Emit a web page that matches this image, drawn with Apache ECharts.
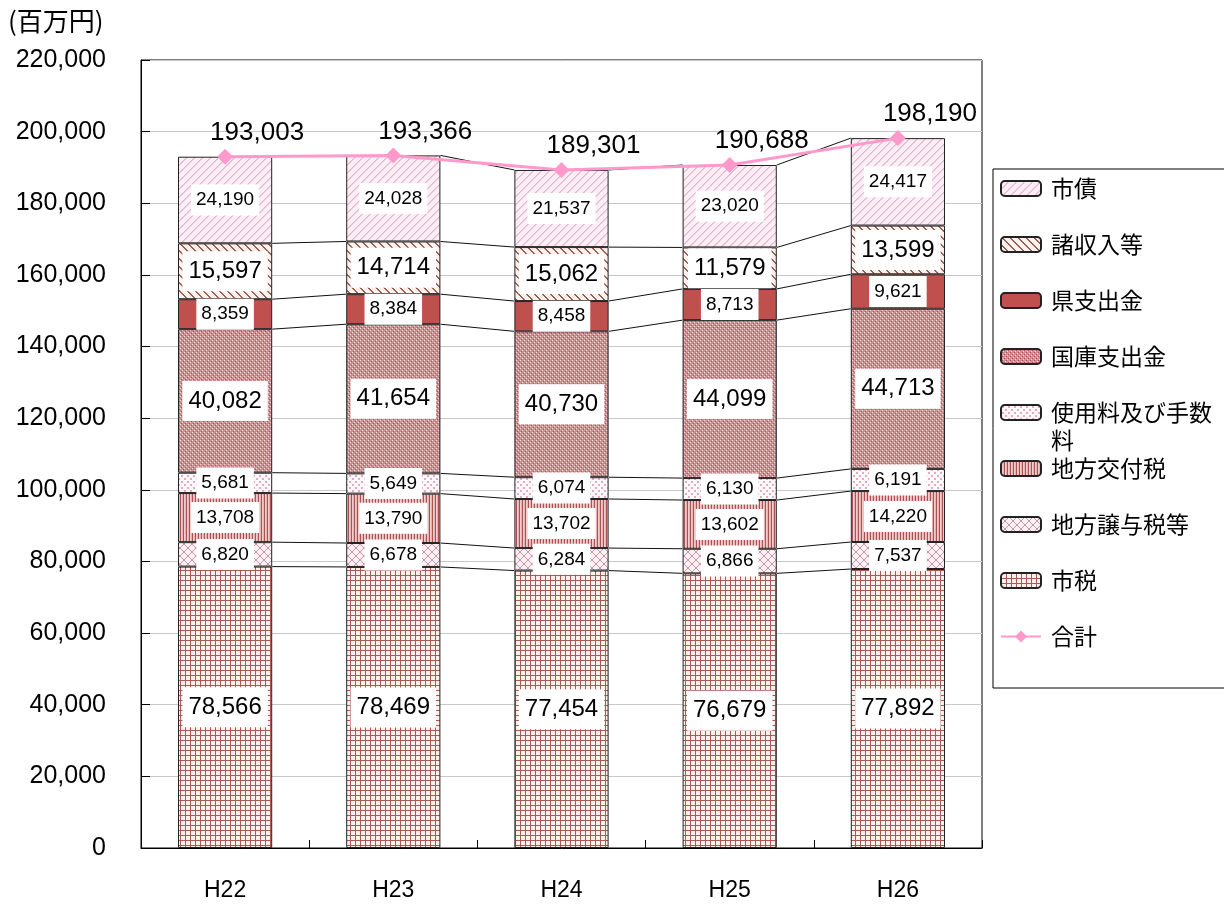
<!DOCTYPE html>
<html>
<head>
<meta charset="utf-8">
<script src="https://cdn.jsdelivr.net/npm/echarts@6/dist/echarts.min.js"></script>
<style>
  html, body { margin: 0; padding: 0; background: #fff; }
  #chart { width: 1224px; height: 905px; }
</style>
</head>
<body>
<div id="chart"></div>
<script>
// 歳入の推移（百万円）
const years = ['H22', 'H23', 'H24', 'H25', 'H26'];
const shizei       = [78566, 78469, 77454, 76679, 77892]; // 市税
const jouyozei     = [6820, 6678, 6284, 6866, 7537];      // 地方譲与税等
const koufuzei     = [13708, 13790, 13702, 13602, 14220]; // 地方交付税
const shiyouryou   = [5681, 5649, 6074, 6130, 6191];      // 使用料及び手数料
const kokko        = [40082, 41654, 40730, 44099, 44713]; // 国庫支出金
const kenshishutsu = [8359, 8384, 8458, 8713, 9621];      // 県支出金
const shoshuunyuu  = [15597, 14714, 15062, 11579, 13599]; // 諸収入等
const shisai       = [24190, 24028, 21537, 23020, 24417]; // 市債
const goukei       = [193003, 193366, 189301, 190688, 198190]; // 合計
const yTicks = { min: 0, max: 220000, interval: 20000 };

const NUM_FONT = "'Liberation Sans', Arial, sans-serif";
const JP_FONT = "'Noto Sans CJK JP', sans-serif";
const BAR_RATIO = 0.56;

// small repeating tiles used as hatch fills
function tile(w, h, bg, draw) {
  const c = document.createElement('canvas');
  c.width = w; c.height = h;
  const g = c.getContext('2d');
  g.fillStyle = bg; g.fillRect(0, 0, w, h);
  draw((x, y, col) => { g.fillStyle = col; g.fillRect(x, y, 1, 1); });
  return { image: c, repeat: 'repeat' };
}
const fills = {
  shizei: tile(5, 5, '#fdf0ec', px => {
    for (let i = 0; i < 5; i++) { px(i, 0, '#a85a54'); px(0, i, '#a85a54'); }
  }),
  jouyozei: tile(8, 8, '#fcf0f4', px => {
    for (let i = 0; i < 8; i++) { px(i, i, '#c29aa8'); px(7 - i, i, '#c29aa8'); }
  }),
  koufuzei: tile(3, 1, '#f2cccc', px => { px(0, 0, '#a85454'); px(2, 0, '#e6b4b4'); }),
  shiyouryou: tile(6, 6, '#fff8fb', px => {
    px(1, 1, '#e4acc0'); px(2, 1, '#e4acc0'); px(1, 2, '#e4acc0'); px(2, 2, '#e4acc0');
    px(4, 4, '#e4acc0'); px(5, 4, '#e4acc0'); px(4, 5, '#e4acc0'); px(5, 5, '#e4acc0');
  }),
  kokko: tile(4, 4, '#d08e92', px => {
    px(0, 0, '#f6dcdc'); px(2, 2, '#f6dcdc'); px(1, 3, '#a85558'); px(3, 1, '#a85558');
  }),
  kenshishutsu: '#c0504d',
  shoshuunyuu: tile(8, 8, '#fdf1ed', px => {
    for (let i = 0; i < 8; i++) { px(i, i, '#9a6056'); px((i + 1) % 8, i, '#9a6056'); }
  }),
  shisai: tile(8, 8, '#fbeef4', px => {
    for (let i = 0; i < 8; i++) { px(7 - i, i, '#e4b8cc'); px((8 - i) % 8, i, '#eccbda'); }
  })
};

const fmt = v => Number(v).toLocaleString('en-US');

const stackDefs = [
  { name: '市税', data: shizei, fill: fills.shizei, big: true },
  { name: '地方譲与税等', data: jouyozei, fill: fills.jouyozei, big: false },
  { name: '地方交付税', data: koufuzei, fill: fills.koufuzei, big: false },
  { name: '使用料及び手数料', data: shiyouryou, fill: fills.shiyouryou, big: false },
  { name: '国庫支出金', data: kokko, fill: fills.kokko, big: true },
  { name: '県支出金', data: kenshishutsu, fill: fills.kenshishutsu, big: false },
  { name: '諸収入等', data: shoshuunyuu, fill: fills.shoshuunyuu, big: true },
  { name: '市債', data: shisai, fill: fills.shisai, big: false }
];

const barSeries = stackDefs.map(d => ({
  name: d.name,
  type: 'bar',
  stack: 'total',
  barWidth: (BAR_RATIO * 100) + '%',
  data: d.data,
  itemStyle: { color: d.fill, borderColor: '#222', borderWidth: 1 },
  label: {
    show: true,
    position: 'inside',
    formatter: p => fmt(p.value),
    fontFamily: NUM_FONT,
    fontSize: d.big ? 24 : 19,
    color: '#000',
    backgroundColor: '#fff',
    padding: d.big ? [8, 6] : [6, 5]
  },
  z: 3
}));

// connector lines between matching stack boundaries of neighbouring bars
const connectorData = [];
const running = years.map(() => 0);
stackDefs.forEach(d => {
  d.data.forEach((v, i) => { running[i] += v; });
  for (let i = 0; i < years.length - 1; i++) {
    connectorData.push([i, running[i], running[i + 1]]);
  }
});

const connectorSeries = {
  name: 'connector',
  type: 'custom',
  data: connectorData,
  encode: { x: 0, y: 1 },
  silent: true,
  z: 2,
  renderItem: (params, api) => {
    const i = api.value(0);
    const a = api.coord([i, api.value(1)]);
    const b = api.coord([i + 1, api.value(2)]);
    const hw = api.size([1, 0])[0] * BAR_RATIO / 2;
    return {
      type: 'line',
      shape: { x1: a[0] + hw, y1: a[1], x2: b[0] - hw, y2: b[1] },
      style: { stroke: '#111', lineWidth: 1 }
    };
  }
};

const totalSeries = {
  name: '合計',
  type: 'line',
  data: goukei,
  color: '#ff99cc',
  lineStyle: { width: 3, color: '#ff99cc' },
  symbol: 'diamond',
  symbolSize: 16,
  itemStyle: { color: '#ff99cc' },
  label: {
    show: true,
    position: 'top',
    offset: [32, 2],
    formatter: p => fmt(p.value),
    fontFamily: NUM_FONT,
    fontSize: 26,
    color: '#000'
  },
  z: 5
};

const legendOrder = ['市債', '諸収入等', '県支出金', '国庫支出金', '使用料及び手数料',
  '地方交付税', '地方譲与税等', '市税', '合計'];

const chart = echarts.init(document.getElementById('chart'), null, { renderer: 'canvas' });
chart.setOption({
  backgroundColor: '#fff',
  animation: false,
  grid: {
    left: 141, right: 242, top: 60, bottom: 57,
    show: true, borderColor: '#000', borderWidth: 1
  },
  xAxis: {
    type: 'category',
    data: years,
    axisLine: { lineStyle: { color: '#000', width: 1 } },
    axisTick: { show: true, inside: true, length: 8, lineStyle: { color: '#000' } },
    axisLabel: { color: '#000', fontFamily: NUM_FONT, fontSize: 23, margin: 31 }
  },
  yAxis: {
    type: 'value',
    min: yTicks.min, max: yTicks.max, interval: yTicks.interval,
    axisLine: { show: true, lineStyle: { color: '#000', width: 1 } },
    axisTick: { show: true, inside: true, length: 9, lineStyle: { color: '#000' } },
    splitLine: { lineStyle: { color: '#c8c8c8', width: 1 } },
    axisLabel: { color: '#000', fontFamily: NUM_FONT, fontSize: 25, margin: 35, formatter: v => fmt(v) }
  },
  legend: {
    orient: 'vertical',
    left: 993, top: 169,
    padding: [8, 60, 40, 7],
    borderColor: '#000', borderWidth: 1,
    itemWidth: 40, itemHeight: 15, itemGap: 33,
    data: legendOrder,
    formatter: name => (name === '使用料及び手数料' ? '使用料及び手数' : name),
    textStyle: { fontFamily: JP_FONT, fontSize: 23, color: '#000', padding: [0, 0, 0, 5] }
  },
  graphic: [
    {
      type: 'text', left: 8, top: 8,
      style: { text: '(百万円)', font: "26px 'Noto Sans CJK JP', sans-serif", fill: '#000' }
    },
    {
      type: 'text', left: 1051, top: 429,
      style: { text: '料', font: "23px 'Noto Sans CJK JP', sans-serif", fill: '#000' }
    }
  ],
  series: [connectorSeries, ...barSeries, totalSeries]
});
</script>
</body>
</html>
